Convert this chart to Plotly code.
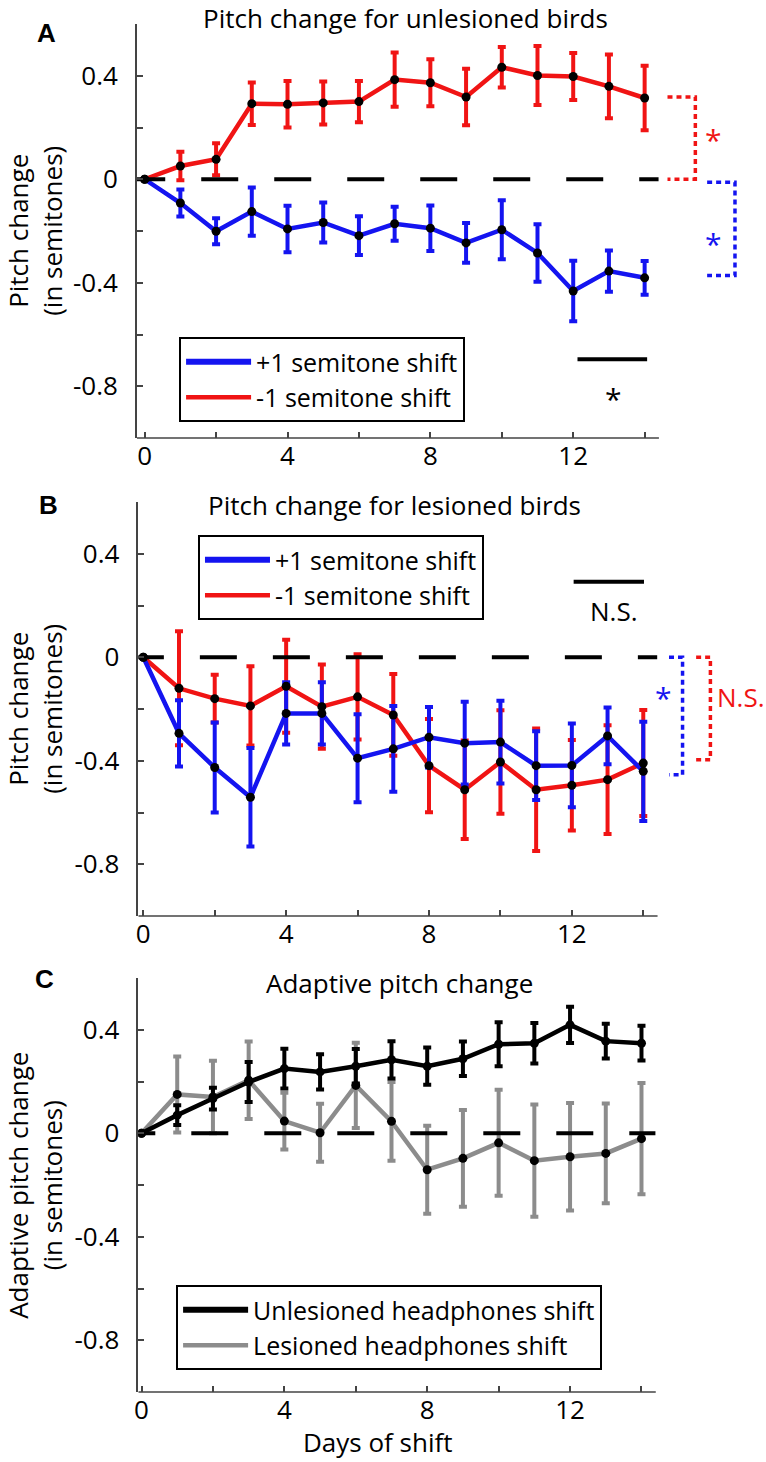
import plotly.graph_objects as go

FONT = "Open Sans"
FS = 26
LFS = 25
AXC = "#444444"
RED = "#f01414"
BLUE = "#1414f0"
GRAY = "#8c8c8c"

days = list(range(15))

# ---------------- Panel A : unlesioned birds ----------------
a_plus_mean = [0, -0.092, -0.201, -0.125, -0.192, -0.167, -0.218, -0.172, -0.189, -0.246, -0.195, -0.285, -0.432, -0.355, -0.381]
a_plus_err = [0, 0.052, 0.050, 0.093, 0.090, 0.077, 0.075, 0.066, 0.088, 0.077, 0.114, 0.111, 0.117, 0.080, 0.065]
a_minus_mean = [0, 0.051, 0.077, 0.292, 0.290, 0.295, 0.300, 0.385, 0.373, 0.318, 0.433, 0.401, 0.397, 0.359, 0.314]
a_minus_err = [0, 0.055, 0.062, 0.082, 0.090, 0.083, 0.080, 0.105, 0.091, 0.109, 0.078, 0.114, 0.091, 0.123, 0.125]

# ---------------- Panel B : lesioned birds ----------------
b_plus_mean = [0, -0.294, -0.426, -0.541, -0.217, -0.217, -0.390, -0.354, -0.309, -0.332, -0.328, -0.419, -0.418, -0.304, -0.441]
b_plus_err = [0, 0.128, 0.174, 0.190, 0.120, 0.120, 0.170, 0.166, 0.117, 0.160, 0.160, 0.133, 0.162, 0.110, 0.192]
b_minus_mean = [0, -0.120, -0.160, -0.188, -0.112, -0.191, -0.153, -0.223, -0.419, -0.512, -0.405, -0.512, -0.495, -0.473, -0.409]
b_minus_err = [0, 0.220, 0.092, 0.153, 0.180, 0.163, 0.165, 0.158, 0.180, 0.190, 0.200, 0.237, 0.175, 0.210, 0.205]

# ---------------- Panel C : adaptive pitch change ----------------
c_unles_mean = [0, 0.070, 0.134, 0.198, 0.250, 0.237, 0.259, 0.284, 0.259, 0.288, 0.344, 0.348, 0.419, 0.356, 0.348]
c_unles_err = [0, 0.038, 0.042, 0.077, 0.077, 0.068, 0.067, 0.072, 0.072, 0.067, 0.085, 0.078, 0.070, 0.067, 0.067]
c_les_mean = [0, 0.150, 0.140, 0.205, 0.047, 0.002, 0.185, 0.046, -0.141, -0.097, -0.037, -0.106, -0.091, -0.078, -0.021]
c_les_err = [0, 0.147, 0.140, 0.150, 0.110, 0.112, 0.165, 0.152, 0.170, 0.187, 0.205, 0.217, 0.208, 0.193, 0.215]

# zero reference (dashed) lines
zero_x_ab = [-0.46, 14.39]
zero_x_c = [-0.65, 14.39]
zero_y = [0, 0]

# significance marks
a_bar_x, a_bar_y = [12.12, 14.07], [-0.696, -0.696]
a_red_br_x, a_red_br_y = [14.64, 15.42, 15.42, 14.64], [0.318, 0.318, 0.0, 0.0]
a_blue_br_x, a_blue_br_y = [15.75, 16.53, 16.53, 15.75], [-0.012, -0.012, -0.372, -0.372]
b_bar_x, b_bar_y = [12.05, 14.02], [0.292, 0.292]
b_blue_br_x, b_blue_br_y = [14.72, 15.10, 15.10, 14.72], [0.0, 0.0, -0.454, -0.454]
b_red_br_x, b_red_br_y = [15.48, 15.88, 15.88, 15.48], [0.0, 0.0, -0.396, -0.396]

x_tick_vals = [0, 2, 4, 6, 8, 10, 12, 14]
x_tick_text = ["0", "", "4", "", "8", "", "12", ""]
y_tick_vals = [-0.8, -0.6, -0.4, -0.2, 0, 0.2, 0.4, 0.6]
y_tick_text = ["-0.8", "", "-0.4", "", "0", "", "0.4", ""]

X_HI = 17.3
X_AXIS_END = 14.4
W, H = 766, 1462

# panel geometry in pixels: (axis-left px, x lower, top px, bottom px)
panels = {
    "": (133.5, -0.22, 24, 438),
    "2": (135.0, -0.14, 502, 916),
    "3": (135.0, -0.09, 978, 1392),
}
PX_PER_DAY = 35.9

fig = go.Figure()


def series(mean, err, color, ax, width=4.5):
    fig.add_trace(go.Scatter(
        x=days, y=mean, mode="lines",
        line=dict(color=color, width=width),
        error_y=dict(type="data", array=err, color=color, thickness=4, width=4),
        xaxis="x" + ax, yaxis="y" + ax, showlegend=False, hoverinfo="skip"))


def dots(mean, ax):
    fig.add_trace(go.Scatter(
        x=days, y=mean, mode="markers",
        marker=dict(color="black", size=9),
        xaxis="x" + ax, yaxis="y" + ax, showlegend=False, hoverinfo="skip"))


def path(xs, ys, color, ax, dash, width):
    fig.add_trace(go.Scatter(
        x=xs, y=ys, mode="lines", line=dict(color=color, width=width, dash=dash),
        xaxis="x" + ax, yaxis="y" + ax, showlegend=False, hoverinfo="skip"))


def legend_entry(name, color, width, legend):
    fig.add_trace(go.Scatter(
        x=[None], y=[None], mode="lines", name=name,
        line=dict(color=color, width=width), legend=legend, showlegend=True))


DASH = "37px,36px"
DOT = "5px,4px"

# Panel A
series(a_minus_mean, a_minus_err, RED, "")
series(a_plus_mean, a_plus_err, BLUE, "")
path(zero_x_ab, zero_y, "black", "", DASH, 4)
path(a_bar_x, a_bar_y, "black", "", "solid", 4)
path(a_red_br_x, a_red_br_y, RED, "", DOT, 3.5)
path(a_blue_br_x, a_blue_br_y, BLUE, "", DOT, 3.5)
dots(a_minus_mean, "")
dots(a_plus_mean, "")

# Panel B
series(b_minus_mean, b_minus_err, RED, "2")
series(b_plus_mean, b_plus_err, BLUE, "2")
path(zero_x_ab, zero_y, "black", "2", DASH, 4)
path(b_bar_x, b_bar_y, "black", "2", "solid", 4)
path(b_blue_br_x, b_blue_br_y, BLUE, "2", DOT, 3.5)
path(b_red_br_x, b_red_br_y, RED, "2", DOT, 3.5)
dots(b_minus_mean, "2")
dots(b_plus_mean, "2")

# Panel C
series(c_les_mean, c_les_err, GRAY, "3")
series(c_unles_mean, c_unles_err, "black", "3")
path(zero_x_c, zero_y, "black", "3", DASH, 4)
dots(c_les_mean, "3")
dots(c_unles_mean, "3")

# legends
legend_entry("+1 semitone shift", BLUE, 6, "legend")
legend_entry("-1 semitone shift", RED, 4.5, "legend")
legend_entry("+1 semitone shift", BLUE, 6, "legend2")
legend_entry("-1 semitone shift", RED, 4.5, "legend2")
legend_entry("Unlesioned headphones shift", "black", 6, "legend3")
legend_entry("Lesioned headphones shift", GRAY, 4.5, "legend3")

layout = dict(
    width=W, height=H, margin=dict(l=0, r=0, t=0, b=0),
    paper_bgcolor="white", plot_bgcolor="white",
    font=dict(family=FONT, size=FS, color="black"),
    showlegend=True,
)

shapes = []
for ax, (left_px, x_lo, top_px, bot_px) in panels.items():
    right_px = left_px + (X_HI - x_lo) * PX_PER_DAY
    layout["xaxis" + ax] = dict(
        domain=[left_px / W, right_px / W], range=[x_lo, X_HI],
        anchor="y" + ax, showline=False, zeroline=False, showgrid=False,
        ticks="inside", ticklen=6, tickwidth=1.5, tickcolor=AXC,
        tickvals=x_tick_vals, ticktext=x_tick_text,
        tickfont=dict(size=FS, color="black"), ticklabelstandoff=0,
    )
    layout["yaxis" + ax] = dict(
        domain=[1 - bot_px / H, 1 - top_px / H], range=[-1.0, 0.6],
        anchor="x" + ax, showline=True, linecolor=AXC, linewidth=1.5,
        zeroline=False, showgrid=False,
        ticks="inside", ticklen=6, tickwidth=1.5, tickcolor=AXC,
        tickvals=y_tick_vals, ticktext=y_tick_text,
        tickfont=dict(size=FS, color="black"), ticklabelstandoff=12,
    )
    shapes.append(dict(type="line", xref="x" + ax, yref="y" + ax + " domain",
                       x0=x_lo, x1=X_AXIS_END, y0=0, y1=0,
                       line=dict(color=AXC, width=1.5)))
layout["shapes"] = shapes

leg_common = dict(xanchor="left", yanchor="top", bordercolor="black", borderwidth=2,
                  bgcolor="white", font=dict(size=LFS, color="black", family=FONT),
                  itemwidth=65, tracegroupgap=0)
layout["legend"] = dict(x=176 / W, y=1 - 337 / H, **leg_common)
layout["legend2"] = dict(x=195 / W, y=1 - 535 / H, **leg_common)
layout["legend3"] = dict(x=173 / W, y=1 - 1285 / H, **leg_common)

ann = []


def text(s, x, y, xref="paper", yref="paper", size=FS, color="black", bold=False,
         angle=0, yshift=0, family=FONT, yanchor="middle"):
    ann.append(dict(text=("<b>%s</b>" % s) if bold else s, x=x, y=y, xref=xref, yref=yref,
                    showarrow=False, xanchor="center", yanchor=yanchor, textangle=angle,
                    yshift=yshift, font=dict(size=size, color=color, family=family)))


# panel titles
text("Pitch change for unlesioned birds", 404 / W, 1 - 18 / H)
text("Pitch change for lesioned birds", 393 / W, 1 - 505 / H)
text("Adaptive pitch change", 398 / W, 1 - 983 / H)
# panel letters
text("A", 43 / W, 1 - 33 / H, size=26, bold=True, family="Liberation Sans")
text("B", 45 / W, 1 - 505 / H, size=26, bold=True, family="Liberation Sans")
text("C", 41 / W, 1 - 979 / H, size=26, bold=True, family="Liberation Sans")
# axis titles
text("Pitch change<br>(in semitones)", 31 / W, 0.5, yref="y domain", angle=-90)
text("Pitch change<br>(in semitones)", 31 / W, 0.5, yref="y2 domain", angle=-90)
text("Adaptive pitch change<br>(in semitones)", 31 / W, 0.5, yref="y3 domain", angle=-90)
text("Days of shift", 376 / W, 1 - 1442 / H)
# significance labels
text("*", 13.13, -0.83, xref="x", yref="y", size=30, yshift=-4)
text("*", 15.92, 0.17, xref="x", yref="y", size=30, color=RED, yshift=-4)
text("*", 15.92, -0.234, xref="x", yref="y", size=30, color=BLUE, yshift=-4)
text("N.S.", 13.17, 0.18, xref="x2", yref="y2")
text("*", 14.57, -0.14, xref="x2", yref="y2", size=30, color=BLUE, yshift=-4)
text("N.S.", 16.74, -0.154, xref="x2", yref="y2", color=RED)
layout["annotations"] = ann

fig.update_layout(**layout)
fig.write_html("out.html", config={"displayModeBar": False},
               post_script="document.body.style.margin='0';document.body.style.overflow='hidden';")
